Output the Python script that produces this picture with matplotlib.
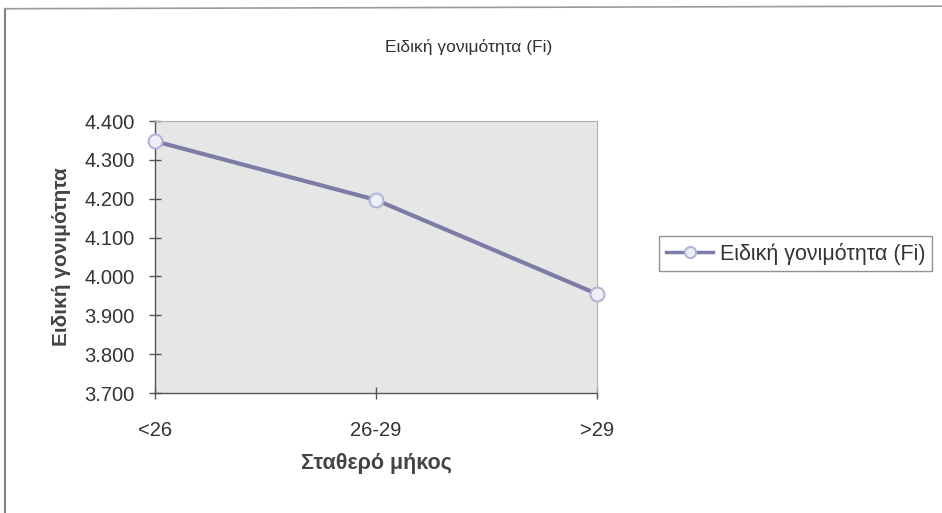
import numpy as np
import matplotlib
matplotlib.use("Agg")
import matplotlib.pyplot as plt
from matplotlib.lines import Line2D

plt.rcParams['font.family'] = ['Liberation Sans', 'DejaVu Sans']

# data
categories = ['<26', '26-29', '>29']
fi_values = [4.348, 4.197, 3.955]
series_name = 'Ειδική γονιμότητα (Fi)'
yticks = [3.7, 3.8, 3.9, 4.0, 4.1, 4.2, 4.3, 4.4]

fig = plt.figure(figsize=(9.42, 5.13), dpi=100)
fig.patch.set_facecolor('white')

# chart area frame (only left and top edges survive in the scan)
fig.lines.append(Line2D([0.0055, 0.0055], [0.0, 0.983], transform=fig.transFigure,
                        color='#808080', linewidth=1.5))
fig.lines.append(Line2D([0.0055, 1.0], [0.983, 0.988], transform=fig.transFigure,
                        color='#9a9a9a', linewidth=1.2))

ax = fig.add_axes([0.1645, 0.2339, 0.4693, 0.5302])
ax.set_facecolor('#e6e6e6')

x = np.arange(len(categories))
ax.plot(x, fi_values, color='#7c7ca6', linewidth=3.0, marker='o', markersize=10,
        markerfacecolor='#eeeef6', markeredgecolor='#b4b4d4', markeredgewidth=1.5,
        label=series_name, clip_on=False, zorder=3)

ax.set_xlim(0, len(categories) - 1)
ax.set_ylim(3.7, 4.4)
ax.set_xticks(x)
ax.set_xticklabels(categories, fontsize=14.5, color='#333333')
ax.set_yticks(yticks)
ax.set_yticklabels(['%.3f' % v for v in yticks], fontsize=14.5, color='#333333')
ax.tick_params(axis='both', direction='inout', length=9, width=1.0, color='#555555')
ax.tick_params(axis='x', pad=16)
ax.tick_params(axis='y', pad=10)

for side in ['top', 'right']:
    ax.spines[side].set_color('#b0b0b0')
    ax.spines[side].set_linewidth(0.8)
for side in ['left', 'bottom']:
    ax.spines[side].set_color('#555555')
    ax.spines[side].set_linewidth(1.0)

ax.set_xlabel('Σταθερό μήκος', fontsize=15.5, fontweight='bold', color='#444444', labelpad=9)
ax.set_ylabel('Ειδική γονιμότητα', fontsize=15, fontweight='bold', color='#444444', labelpad=10)
fig.text(0.497, 0.908, series_name, ha='center', va='center', fontsize=12.5, color='#333333')

leg = fig.legend(loc='center left', bbox_to_anchor=(0.700, 0.505), fontsize=15.5,
                 frameon=True, fancybox=False, handlelength=2.2, handletextpad=0.3,
                 borderpad=0.3, borderaxespad=0.0)
leg.get_frame().set_edgecolor('#777777')
leg.get_frame().set_linewidth(1.0)
for t in leg.get_texts():
    t.set_color('#333333')
for h in leg.legend_handles:
    h.set_markersize(8)
    h.set_linewidth(2.5)

fig.savefig('out.png', dpi=100)
